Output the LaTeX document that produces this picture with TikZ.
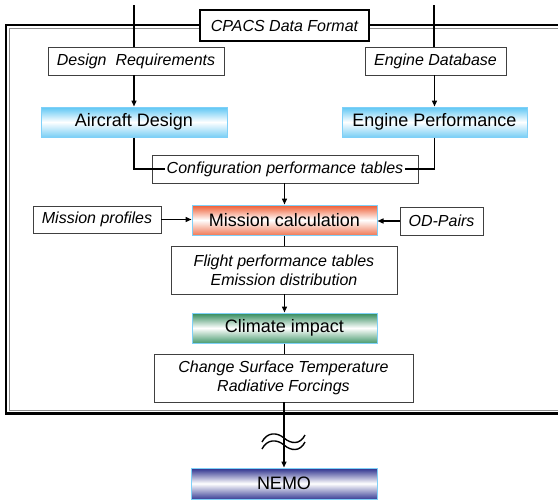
\documentclass[tikz,border=0pt]{standalone}
\usepackage{fontspec}
\setmainfont{Liberation Sans}
\usetikzlibrary{arrows.meta,calc}
\definecolor{procborder}{HTML}{7FD0F8}
\definecolor{bluetop}{HTML}{5CC6F4}
\definecolor{bluebot}{HTML}{7ACFF5}
\definecolor{orgtop}{HTML}{EF5A30}
\definecolor{orgbot}{HTML}{F07A58}
\definecolor{grntop}{HTML}{2F8A5A}
\definecolor{grnbot}{HTML}{4A9C70}
\definecolor{navtop}{HTML}{2A2E8C}
\definecolor{navbot}{HTML}{3C4198}
\begin{document}
\begin{tikzpicture}[x=1pt,y=-1pt,
  databox/.style={draw=black!75, line width=0.9pt, fill=white, inner sep=0pt,
    font=\fontsize{16}{19}\selectfont\itshape, align=center},
  procbox/.style={draw=procborder, line width=1pt, inner sep=0pt,
    font=\fontsize{18}{21}\selectfont},
  bluebox/.style={procbox, top color=bluetop, bottom color=bluebot, middle color=white},
  orangebox/.style={procbox, top color=orgtop, bottom color=orgbot, middle color=white},
  greenbox/.style={procbox, top color=grntop, bottom color=grnbot, middle color=white},
  navybox/.style={procbox, top color=navtop, bottom color=navbot, middle color=white},
  conn/.style={line width=1.4pt},
  arr/.style={conn, -{Triangle[length=6pt,width=5pt]}}
]
\useasboundingbox (0,0) rectangle (558,501);
\clip (0,0) rectangle (558,501);

% outer double frame
\draw[line width=2.3pt] (565,25.3) -| (6.2,413.5) -- (565,413.5);
\draw[line width=0.9pt, black!45] (565,28.5) -| (9.3,410) -- (565,410);

% free ends of the incoming lines
\coordinate (tl) at (134,5);
\coordinate (tr) at (434,5);

% nodes
\node[databox, minimum width=176pt, minimum height=28pt] (dreq) at (136,61) {Design~~Requirements};
\node[databox, minimum width=141pt, minimum height=28pt] (edb) at (435.5,61) {Engine Database};
\draw[conn] (tl) -- (tl |- dreq.north);
\draw[conn] (tr) -- (tr |- edb.north);
\node[databox, draw=black, line width=2pt, minimum width=169pt, minimum height=31pt] (cpacs) at (284.5,25.5) {CPACS Data Format};

\node[bluebox, minimum width=186pt, minimum height=30pt] (acd) at (134,122) {Aircraft Design};
\node[bluebox, minimum width=185pt, minimum height=30pt] (enp) at (434.5,122) {Engine Performance};

\node[databox, minimum width=266pt, minimum height=28pt] (cfg) at (285,169) {};
\node[font=\fontsize{16}{19}\selectfont\itshape, inner sep=1.5pt] (cfgt) at (285,169) {Configuration performance tables};

\node[orangebox, minimum width=185pt, minimum height=30pt] (mc) at (284.5,220) {Mission calculation};
\node[databox, minimum width=128pt, minimum height=27pt] (mp) at (97,219.5) {Mission profiles};
\node[databox, minimum width=83pt, minimum height=28pt] (od) at (441.5,221) {OD-Pairs};

\node[databox, minimum width=226pt, minimum height=48pt] (fpt) at (284,270) {Flight performance tables\\Emission distribution};
\node[greenbox, minimum width=185pt, minimum height=30pt] (ci) at (284.5,328) {Climate impact};
\node[databox, minimum width=259pt, minimum height=48pt] (chg) at (283.5,378) {Change Surface Temperature\\Radiative Forcings};
\node[navybox, minimum width=186pt, minimum height=31pt] (nemo) at (284,483.5) {NEMO};

% connectors
\draw[arr] (dreq.south -| acd.north) -- (acd.north);
\draw[arr] (edb.south -| enp.north) -- (enp.north);
\draw[conn] (acd.south) |- (cfgt.west);
\draw[conn] (enp.south) |- (cfgt.east);
\draw[arr] (cfg.south -| mc.north) -- (mc.north);
\draw[arr] (mp.east) -- (mp.east -| mc.west);
\draw[arr] (od.west) -- (od.west -| mc.east);
\draw[conn] (mc.south) -- (mc.south |- fpt.north);
\draw[arr] (fpt.south -| ci.north) -- (ci.north);
\draw[conn] (ci.south) -- (ci.south |- chg.north);
\draw[arr] (chg.south -| nemo.north) -- (nemo.north);

% break symbol
\draw[line width=1.4pt] (262,442) .. controls (267,432) and (277,432) .. (284,438) .. controls (291,444) and (300,445) .. (305,435);
\draw[line width=1.4pt] (262,449) .. controls (267,439) and (277,439) .. (284,445) .. controls (291,451) and (300,452) .. (305,442);
\end{tikzpicture}
\end{document}
